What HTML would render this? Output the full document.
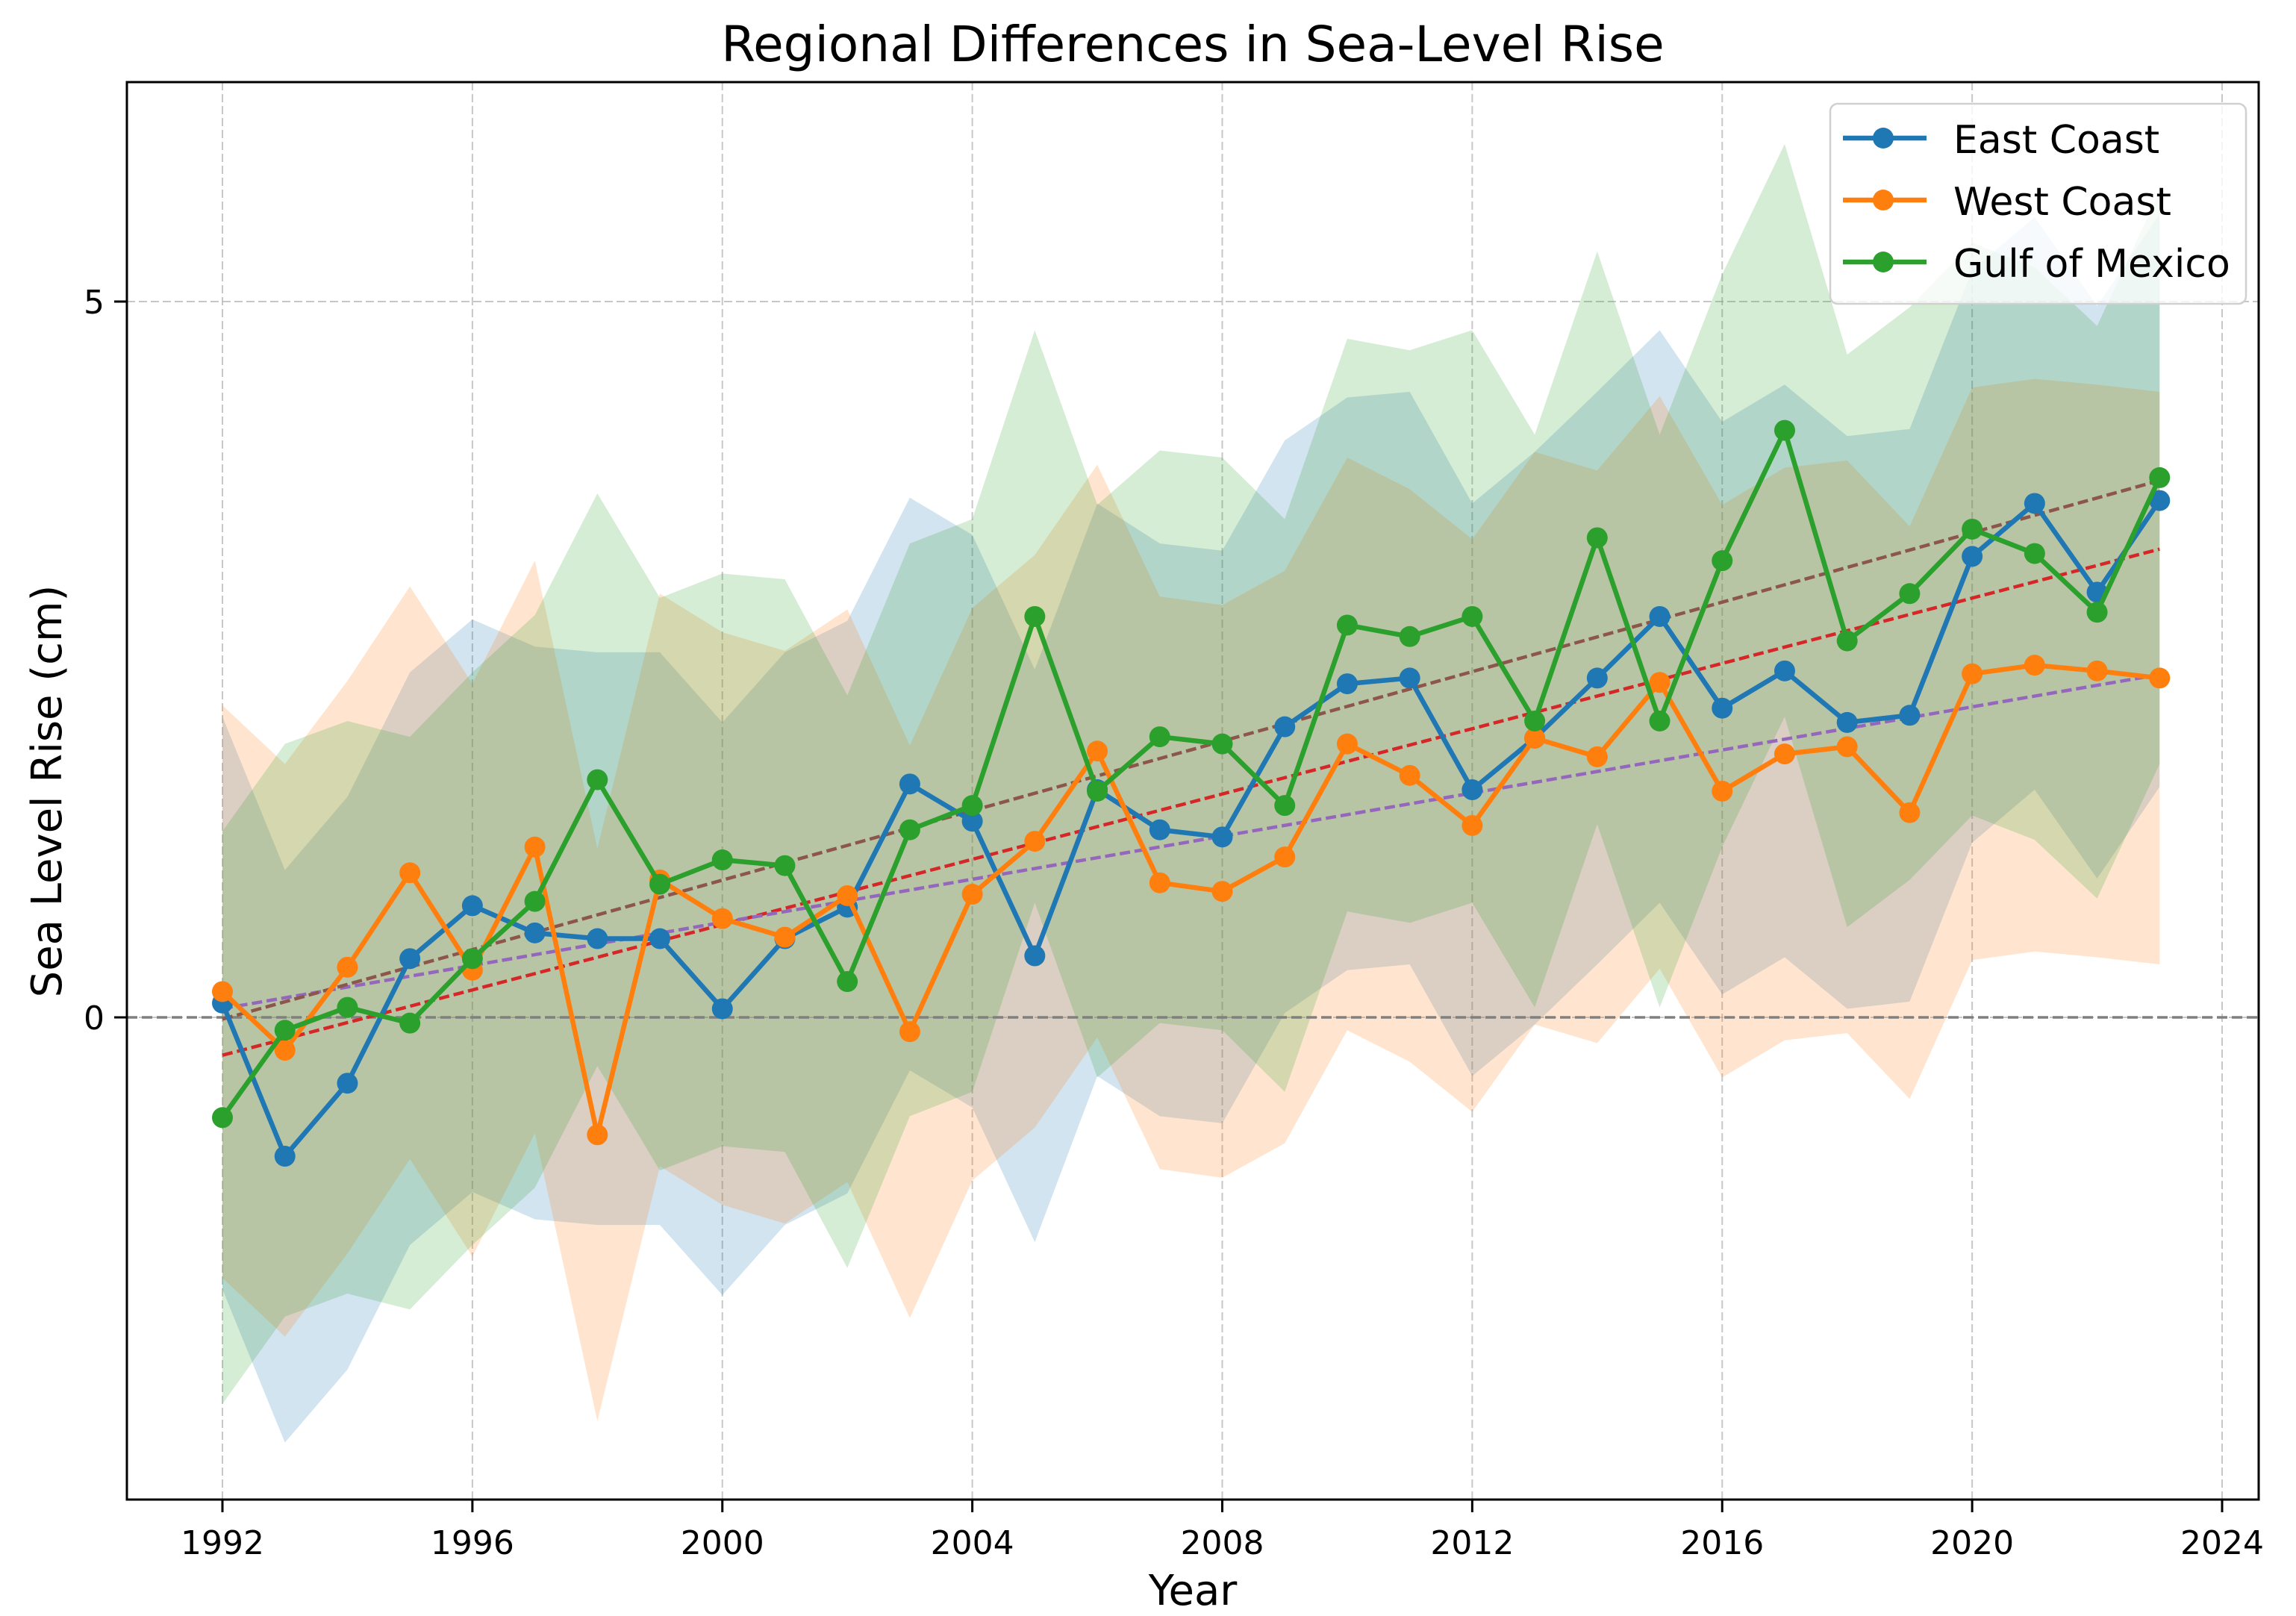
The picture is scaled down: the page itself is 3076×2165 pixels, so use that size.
<!DOCTYPE html>
<html><head><meta charset="utf-8"><style>
html,body{margin:0;padding:0;background:#fff;}
svg{display:block;font-family:"DejaVu Sans","Liberation Sans",sans-serif;}
</style></head><body>
<svg id="chart" width="3076" height="2165" viewBox="0 0 3076 2165" xmlns="http://www.w3.org/2000/svg">
<rect width="3076" height="2165" fill="#fff"/>
<text x="1598" y="82" font-size="66" text-anchor="middle" fill="#000">Regional Differences in Sea-Level Rise</text>
<text x="1598" y="2150" font-size="56" text-anchor="middle" fill="#000">Year</text>
<text x="0" y="0" font-size="56" text-anchor="middle" fill="#000" transform="translate(82,1060) rotate(-90)">Sea Level Rise (cm)</text>
<g id="grid"></g>
<g id="bands"></g>
<g id="trends"></g>
<g id="series"></g>
<g id="axes"></g>
<g id="legend"></g>
</svg>
<script>
const years = [1992,1993,1994,1995,1996,1997,1998,1999,2000,2001,2002,2003,2004,2005,2006,2007,2008,2009,2010,2011,2012,2013,2014,2015,2016,2017,2018,2019,2020,2021,2022,2023];
const eastCoast = [0.10,-0.97,-0.46,0.41,0.78,0.59,0.55,0.55,0.06,0.55,0.77,1.63,1.37,0.43,1.59,1.31,1.26,2.03,2.33,2.37,1.59,1.95,2.37,2.80,2.16,2.42,2.06,2.11,3.22,3.59,2.97,3.61];
const westCoast = [0.18,-0.23,0.35,1.01,0.33,1.19,-0.82,0.96,0.69,0.56,0.85,-0.10,0.86,1.23,1.86,0.94,0.88,1.12,1.91,1.69,1.34,1.95,1.82,2.34,1.58,1.84,1.89,1.43,2.40,2.46,2.42,2.37];
const gulfOfMexico = [-0.70,-0.09,0.07,-0.04,0.41,0.81,1.66,0.93,1.10,1.06,0.25,1.31,1.48,2.80,1.58,1.96,1.91,1.48,2.74,2.66,2.80,2.07,3.35,2.07,3.19,4.10,2.63,2.96,3.41,3.24,2.83,3.77];
const bandHalfWidth = 2;
const xTicks = [1992,1996,2000,2004,2008,2012,2016,2020,2024];
const yTicks = [0,5];
const seriesNames = ["East Coast","West Coast","Gulf of Mexico"];

const NS="http://www.w3.org/2000/svg";
const L=170,R=3026,T=110,B=2009;
const X=v=>298+(v-1992)*(2977-298)/32;
const Y=v=>1363-(v)*(1363-404)/5;
function mk(tag,parent,attrs){const e=document.createElementNS(NS,tag);for(const k in attrs)e.setAttribute(k,attrs[k]);parent.appendChild(e);return e;}
const grid=document.getElementById('grid'),bands=document.getElementById('bands'),trends=document.getElementById('trends'),series=document.getElementById('series'),axes=document.getElementById('axes'),legend=document.getElementById('legend');

xTicks.forEach(t=>{
  const g=mk('line',grid,{x1:X(t),x2:X(t),y1:T,y2:B,stroke:'#b0b0b0','stroke-width':2,'stroke-dasharray':'11,5',opacity:0.7});
  
  
  const tk=mk('line',axes,{x1:X(t),x2:X(t),y1:B,y2:B+17,stroke:'#000','stroke-width':3});
  
  
  const tl=mk('text',axes,{x:X(t),y:2082,'font-size':44,'text-anchor':'middle',fill:'#000'});
  tl.textContent=t;
  
  
});
yTicks.forEach(t=>{
  const g=mk('line',grid,{x1:L,x2:R,y1:Y(t),y2:Y(t),stroke:'#b0b0b0','stroke-width':2,'stroke-dasharray':'11,5',opacity:0.7});
  
  
  const tk=mk('line',axes,{x1:L-17,x2:L,y1:Y(t),y2:Y(t),stroke:'#000','stroke-width':3});
  
  
  const tl=mk('text',axes,{x:L-30,y:Y(t)+16,'font-size':44,'text-anchor':'end',fill:'#000'});
  tl.textContent=t;
  
  
});

const data=[eastCoast,westCoast,gulfOfMexico];
const colors=['#1f77b4','#ff7f0e','#2ca02c'];
const trendColors=['#d62728','#9467bd','#8c564b'];
const keys=['east-coast','west-coast','gulf-of-mexico'];

data.forEach((d,i)=>{
  let p='';
  years.forEach((yr,j)=>{p+=(j?'L':'M')+X(yr)+','+Y(d[j]+bandHalfWidth);});
  for(let j=years.length-1;j>=0;j--)p+='L'+X(years[j])+','+Y(d[j]-bandHalfWidth);
  const b=mk('path',bands,{d:p+'Z',fill:colors[i],'fill-opacity':0.2});
  
  
});
const z=mk('line',trends,{x1:L,x2:R,y1:Y(0),y2:Y(0),stroke:'#808080','stroke-width':3.5,'stroke-dasharray':'14,6'});



data.forEach((d,i)=>{
  const n=years.length;let sx=0,sy=0,sxx=0,sxy=0;
  years.forEach((yr,j)=>{sx+=yr;sy+=d[j];sxx+=yr*yr;sxy+=yr*d[j];});
  const m=(n*sxy-sx*sy)/(n*sxx-sx*sx),c=(sy-m*sx)/n;
  const y0=years[0],y1=years[n-1];
  const t=mk('line',trends,{x1:X(y0),y1:Y(m*y0+c),x2:X(y1),y2:Y(m*y1+c),stroke:trendColors[i],'stroke-width':4.5,'stroke-dasharray':'14,6'});
  
  
});

data.forEach((d,i)=>{
  const g=mk('g',series,{});
  
  
  const pts=years.map((yr,j)=>X(yr)+','+Y(d[j])).join(' ');
  const pl=mk('polyline',g,{points:pts,fill:'none',stroke:colors[i],'stroke-width':6.5,'stroke-linejoin':'round'});
  
  
  years.forEach((yr,j)=>{
    const c=mk('circle',g,{cx:X(yr),cy:Y(d[j]),r:14,fill:colors[i]});
    
    
  });
});

const frame=mk('rect',axes,{x:L,y:T,width:R-L,height:B-T,fill:'none',stroke:'#000','stroke-width':3});



const lb=mk('rect',legend,{x:2452,y:139,width:557,height:268,rx:10,fill:'#fff','fill-opacity':0.8,stroke:'#d0d0d0','stroke-width':2.5});


const rows=[185,268,351];
seriesNames.forEach((nm,i)=>{
  const g=mk('g',legend,{});
  
  
  mk('line',g,{x1:2469,x2:2581,y1:rows[i],y2:rows[i],stroke:colors[i],'stroke-width':6.5});
  mk('circle',g,{cx:2523,cy:rows[i],r:14,fill:colors[i]});
  const tx=mk('text',g,{x:2617,y:rows[i]+20,'font-size':52,fill:'#000'});
  tx.textContent=nm;
});
</script>
</body></html>
